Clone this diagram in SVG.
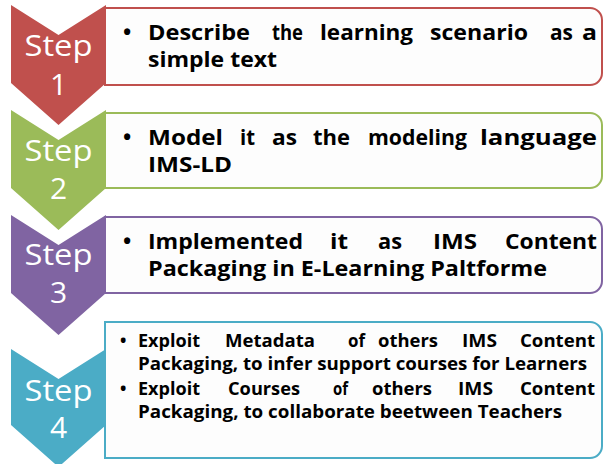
<svg xmlns="http://www.w3.org/2000/svg" width="604" height="464" viewBox="0 0 604 464">
<style>
.box{fill:#FDFDFD;stroke-width:2}
.step{font-family:"Open Sans","Liberation Sans",sans-serif;font-size:30px;fill:#FFFFFF;text-anchor:middle}
.t{font-family:"Open Sans","Liberation Sans",sans-serif;font-weight:bold;font-size:22px;fill:#000000}
.s{font-family:"Open Sans","Liberation Sans",sans-serif;font-weight:bold;font-size:17px;fill:#000000}
</style>
<rect width="604" height="464" fill="#FFFFFF"/>
<g id="connectors"/>
<g id="step1">
<path class="box" stroke="#C0504D" d="M105,8 H590 A12,12 0 0 1 602,20 V73 A12,12 0 0 1 590,85 H105 Z"/>
<path fill="#C0504D" d="M11,5 L58.5,35 L106,5 L106,83 L58.5,125 L11,83 Z"/>
<text class="step" x="58.5" y="56" textLength="68" lengthAdjust="spacingAndGlyphs">Step</text>
<text class="step" x="58.5" y="95">1</text>
<text class="t" x="123" y="40">•</text>
<text class="t" x="148" y="40" textLength="102" lengthAdjust="spacingAndGlyphs">Describe</text>
<text class="t" x="272" y="40" textLength="31" lengthAdjust="spacingAndGlyphs">the</text>
<text class="t" x="320" y="40" textLength="93" lengthAdjust="spacingAndGlyphs">learning</text>
<text class="t" x="430" y="40" textLength="98" lengthAdjust="spacingAndGlyphs">scenario</text>
<text class="t" x="550" y="40" textLength="23" lengthAdjust="spacingAndGlyphs">as</text>
<text class="t" x="582" y="40" textLength="15" lengthAdjust="spacingAndGlyphs">a</text>
<text class="t" x="148" y="67" textLength="129" lengthAdjust="spacingAndGlyphs">simple text</text>
</g>
<g id="step2">
<path class="box" stroke="#9BBB59" d="M105,113 H590 A12,12 0 0 1 602,125 V176 A12,12 0 0 1 590,188 H105 Z"/>
<path fill="#9BBB59" d="M11,110 L58.5,140 L106,110 L106,188 L58.5,230 L11,188 Z"/>
<text class="step" x="58.5" y="161" textLength="68" lengthAdjust="spacingAndGlyphs">Step</text>
<text class="step" x="58.5" y="199">2</text>
<text class="t" x="123" y="145">•</text>
<text class="t" x="148" y="145" textLength="75" lengthAdjust="spacingAndGlyphs">Model</text>
<text class="t" x="240" y="145" textLength="15" lengthAdjust="spacingAndGlyphs">it</text>
<text class="t" x="272" y="145" textLength="25" lengthAdjust="spacingAndGlyphs">as</text>
<text class="t" x="313" y="145" textLength="37" lengthAdjust="spacingAndGlyphs">the</text>
<text class="t" x="368" y="145" textLength="99" lengthAdjust="spacingAndGlyphs">modeling</text>
<text class="t" x="480" y="145" textLength="117" lengthAdjust="spacingAndGlyphs">language</text>
<text class="t" x="148" y="172" textLength="84" lengthAdjust="spacingAndGlyphs">IMS-LD</text>
</g>
<g id="step3">
<path class="box" stroke="#8064A2" d="M105,217 H590 A12,12 0 0 1 602,229 V281 A12,12 0 0 1 590,293 H105 Z"/>
<path fill="#8064A2" d="M11,215 L58.5,245 L106,215 L106,293 L58.5,335 L11,293 Z"/>
<text class="step" x="58.5" y="265" textLength="68" lengthAdjust="spacingAndGlyphs">Step</text>
<text class="step" x="58.5" y="303">3</text>
<text class="t" x="123" y="249">•</text>
<text class="t" x="148" y="249" textLength="155" lengthAdjust="spacingAndGlyphs">Implemented</text>
<text class="t" x="330" y="249" textLength="18" lengthAdjust="spacingAndGlyphs">it</text>
<text class="t" x="378" y="249" textLength="24" lengthAdjust="spacingAndGlyphs">as</text>
<text class="t" x="433" y="249" textLength="44" lengthAdjust="spacingAndGlyphs">IMS</text>
<text class="t" x="505" y="249" textLength="92" lengthAdjust="spacingAndGlyphs">Content</text>
<text class="t" x="148" y="276" textLength="399" lengthAdjust="spacingAndGlyphs">Packaging in E-Learning Paltforme</text>
</g>
<g id="step4">
<path class="box" stroke="#4BACC6" d="M105,322 H590 A12,12 0 0 1 602,334 V446 A12,12 0 0 1 590,458 H105 Z"/>
<path fill="#4BACC6" d="M11,349 L58.5,379 L106,349 L106,425 L58.5,467 L11,425 Z"/>
<text class="step" x="58.5" y="401" textLength="68" lengthAdjust="spacingAndGlyphs">Step</text>
<text class="step" x="58.5" y="438">4</text>
<text class="s" x="120" y="347">•</text>
<text class="s" x="138" y="347" textLength="62" lengthAdjust="spacingAndGlyphs">Exploit</text>
<text class="s" x="225" y="347" textLength="90" lengthAdjust="spacingAndGlyphs">Metadata</text>
<text class="s" x="348" y="347" textLength="17" lengthAdjust="spacingAndGlyphs">of</text>
<text class="s" x="378" y="347" textLength="60" lengthAdjust="spacingAndGlyphs">others</text>
<text class="s" x="462" y="347" textLength="35" lengthAdjust="spacingAndGlyphs">IMS</text>
<text class="s" x="520" y="347" textLength="75" lengthAdjust="spacingAndGlyphs">Content</text>
<text class="s" x="138" y="370" textLength="449" lengthAdjust="spacingAndGlyphs">Packaging, to infer support courses for Learners</text>
<text class="s" x="120" y="395">•</text>
<text class="s" x="138" y="395" textLength="62" lengthAdjust="spacingAndGlyphs">Exploit</text>
<text class="s" x="228" y="395" textLength="72" lengthAdjust="spacingAndGlyphs">Courses</text>
<text class="s" x="333" y="395" textLength="15" lengthAdjust="spacingAndGlyphs">of</text>
<text class="s" x="372" y="395" textLength="60" lengthAdjust="spacingAndGlyphs">others</text>
<text class="s" x="458" y="395" textLength="35" lengthAdjust="spacingAndGlyphs">IMS</text>
<text class="s" x="520" y="395" textLength="75" lengthAdjust="spacingAndGlyphs">Content</text>
<text class="s" x="138" y="418" textLength="424" lengthAdjust="spacingAndGlyphs">Packaging, to collaborate beetween Teachers</text>
</g>
</svg>
